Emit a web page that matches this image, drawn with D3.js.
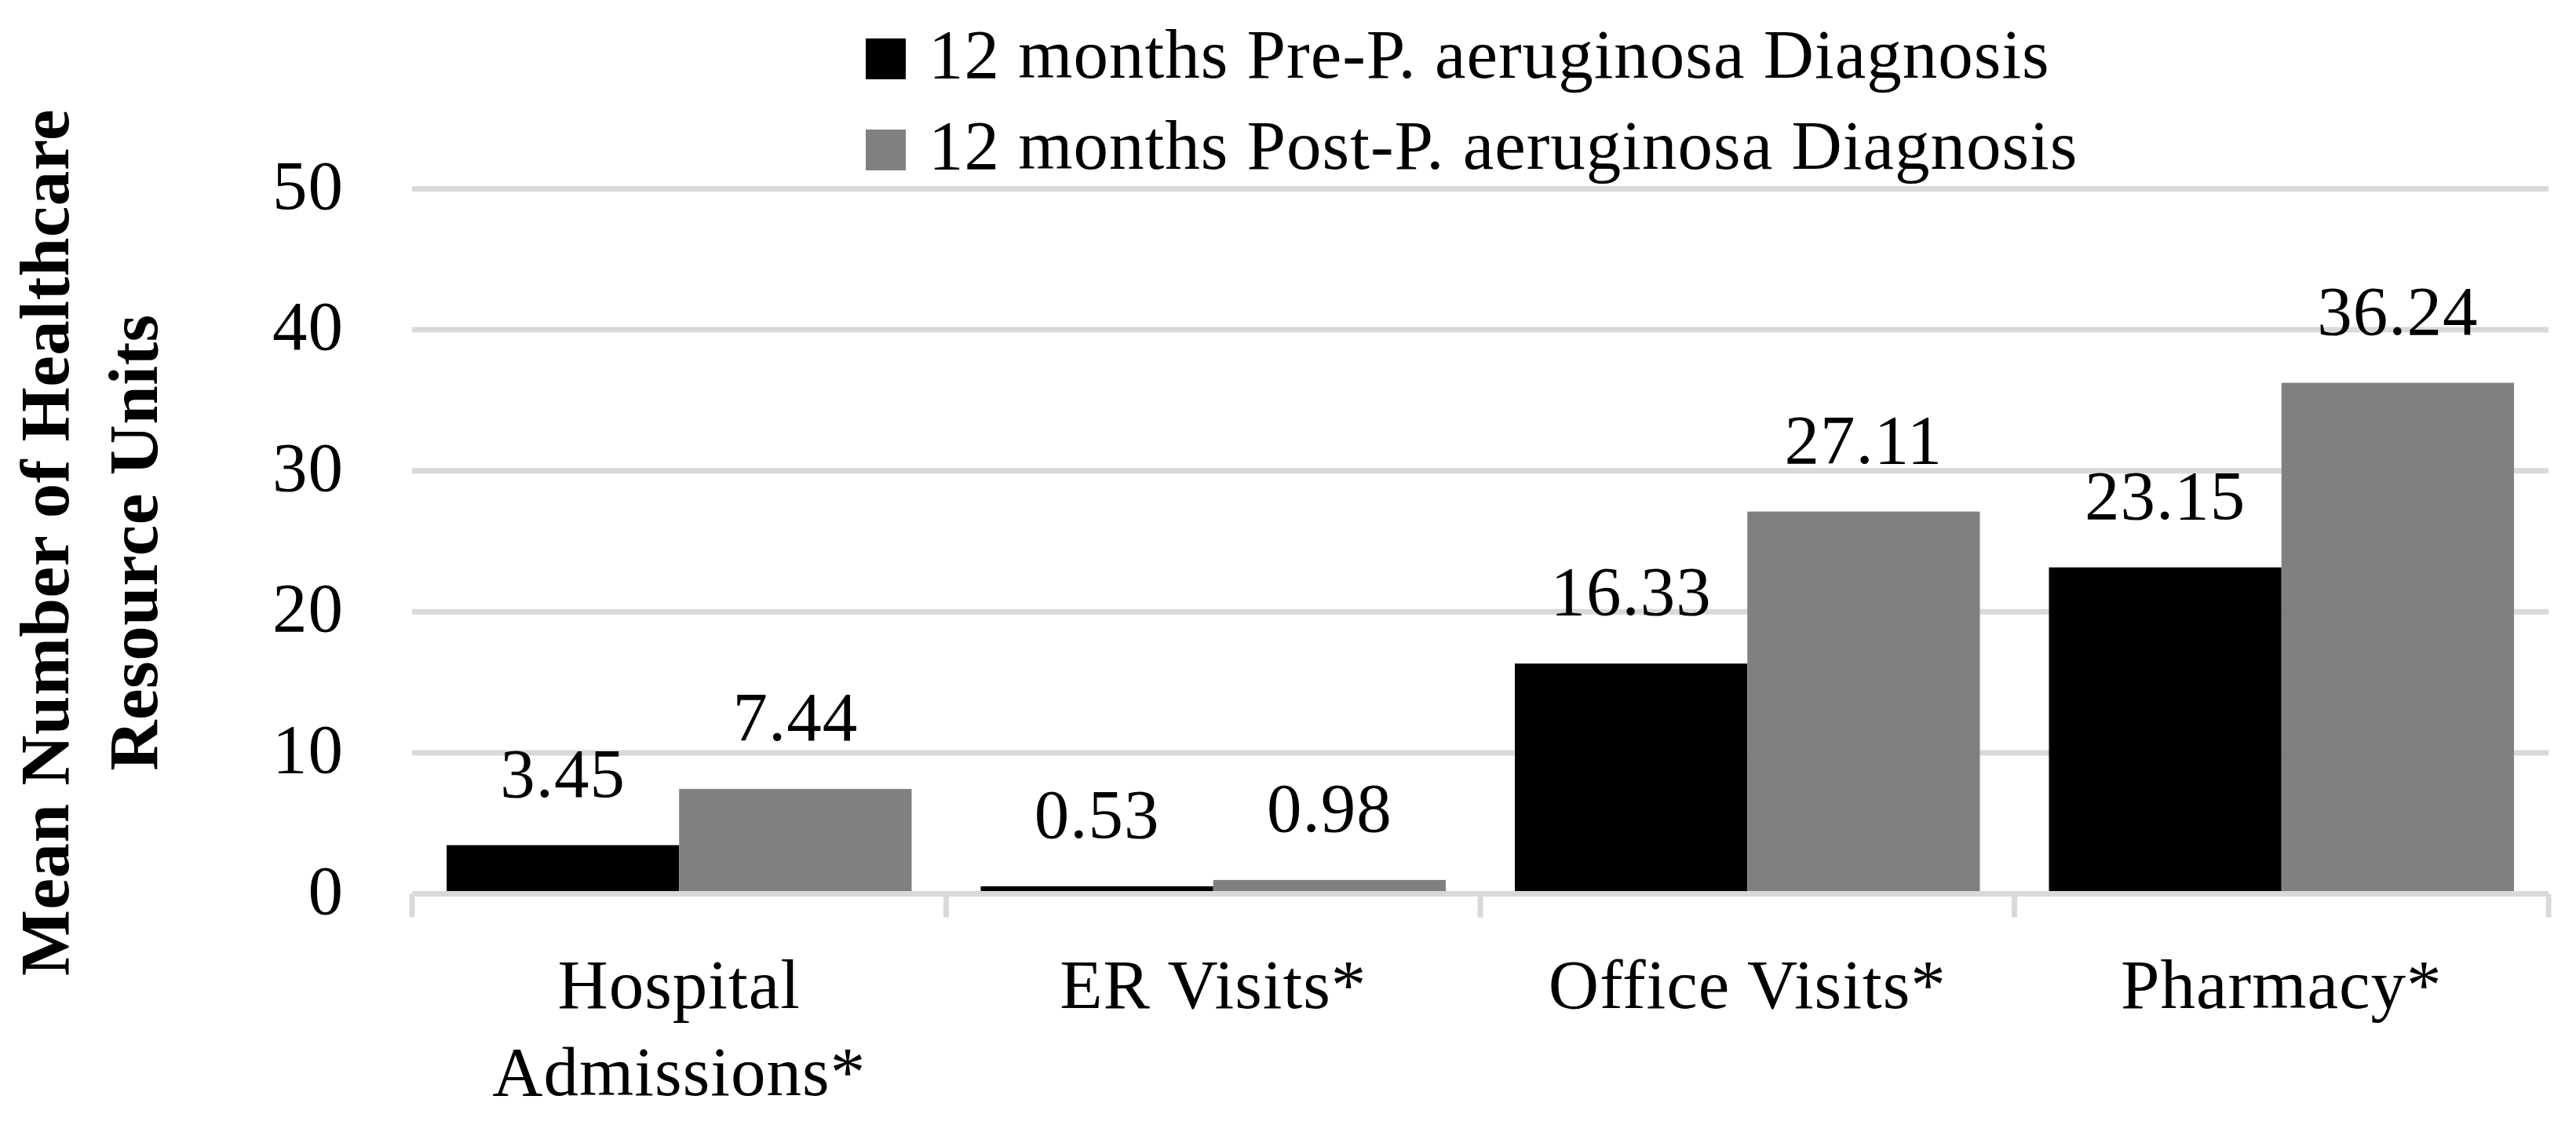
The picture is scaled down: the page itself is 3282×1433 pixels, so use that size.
<!DOCTYPE html>
<html>
<head>
<meta charset="utf-8">
<script src="https://cdn.jsdelivr.net/npm/d3@7"></script>
<style>
  html, body { margin: 0; padding: 0; background: #fff; }
  svg { display: block; }
  text { font-family: "Palatino Linotype", "Book Antiqua", Palatino, "Liberation Serif", serif; fill: #000; }
</style>
</head>
<body>
<svg id="chart" width="3282" height="1433"></svg>
<script>
// data
let categories = [["Hospital", "Admissions*"], ["ER Visits*"], ["Office Visits*"], ["Pharmacy*"]];
let seriesNames = ["12 months Pre-P. aeruginosa Diagnosis", "12 months Post-P. aeruginosa Diagnosis"];
let preValues = [3.45, 0.53, 16.33, 23.15];
let postValues = [7.44, 0.98, 27.11, 36.24];
let yTicks = [0, 10, 20, 30, 40, 50];
let colors = ["#000000", "#808080"];

let svg = d3.select("#chart");
let fontSize = 89;
let spacing = "1px";

let catKeys = categories.map(function(c) { return c.join(" "); });

let xScale = d3.scaleBand()
  .domain(catKeys)
  .range([525, 3247])
  .padding(0);

let xSub = d3.scaleBand()
  .domain([0, 1])
  .range([44, xScale.bandwidth() - 44]);

let yScale = d3.scaleLinear()
  .domain([0, 50])
  .range([1138.5, 240.5]);

// gridlines
svg.append("g")
  .selectAll("line")
  .data(yTicks.slice(1))
  .enter()
  .append("line")
    .attr("x1", 525)
    .attr("x2", 3247)
    .attr("y1", function(d) { return yScale(d); })
    .attr("y2", function(d) { return yScale(d); })
    .style("stroke", "#d9d9d9")
    .style("stroke-width", 7);

// y tick labels
svg.append("g")
  .selectAll("text")
  .data(yTicks)
  .enter()
  .append("text")
    .attr("x", 438)
    .attr("y", function(d) { return yScale(d) + 25; })
    .attr("text-anchor", "end")
    .style("font-size", fontSize + "px")
    .style("letter-spacing", spacing)
    .text(function(d) { return d; });

// bars
let rows = catKeys.map(function(k, i) { return { key: k, values: [preValues[i], postValues[i]] }; });

let groups = svg.append("g")
  .selectAll("g")
  .data(rows)
  .enter()
  .append("g")
    .attr("transform", function(d) { return "translate(" + xScale(d.key) + ",0)"; });

groups.selectAll("rect")
  .data(function(d) { return d.values; })
  .enter()
  .append("rect")
    .attr("x", function(d, i) { return xSub(i); })
    .attr("width", xSub.bandwidth())
    .attr("y", function(d) { return yScale(d); })
    .attr("height", function(d) { return yScale(0) - yScale(d); })
    .style("fill", function(d, i) { return colors[i]; });

groups.selectAll("text")
  .data(function(d) { return d.values; })
  .enter()
  .append("text")
    .attr("x", function(d, i) { return xSub(i) + xSub.bandwidth() / 2; })
    .attr("y", function(d) { return yScale(d) - 62; })
    .attr("text-anchor", "middle")
    .style("font-size", fontSize + "px")
    .style("letter-spacing", spacing)
    .text(function(d) { return d.toFixed(2); });

// x axis line and ticks
svg.append("line")
  .attr("x1", 525).attr("x2", 3247)
  .attr("y1", yScale(0)).attr("y2", yScale(0))
  .style("stroke", "#d9d9d9").style("stroke-width", 7);

let boundaries = catKeys.map(function(k) { return xScale(k); }).concat([xScale.range()[1]]);
svg.append("g")
  .selectAll("line")
  .data(boundaries)
  .enter()
  .append("line")
    .attr("x1", function(d) { return d; })
    .attr("x2", function(d) { return d; })
    .attr("y1", yScale(0))
    .attr("y2", yScale(0) + 30)
    .style("stroke", "#d9d9d9")
    .style("stroke-width", 7);

// category labels
svg.append("g")
  .selectAll("text")
  .data(categories)
  .enter()
  .append("text")
    .attr("text-anchor", "middle")
    .style("font-size", fontSize + "px")
    .style("letter-spacing", spacing)
    .each(function(d, i) {
      let t = d3.select(this);
      let cx = xScale(catKeys[i]) + xScale.bandwidth() / 2;
      d.forEach(function(line, j) {
        t.append("tspan")
          .attr("x", cx)
          .attr("y", 1284 + j * 111)
          .text(line);
      });
    });

// y axis title
let title = svg.append("text")
  .attr("transform", "translate(0,691) rotate(-90)")
  .attr("text-anchor", "middle")
  .style("font-size", fontSize + "px")
  .style("font-weight", "bold")
  .style("letter-spacing", "0.5px");
["Mean Number of Healthcare", "Resource Units"].forEach(function(line, j) {
  title.append("tspan")
    .attr("x", 0)
    .attr("y", 87 + j * 113)
    .text(line);
});

// legend
let legend = svg.append("g")
  .selectAll("g")
  .data(seriesNames)
  .enter()
  .append("g")
    .attr("transform", function(d, i) { return "translate(1103," + (49 + i * 116) + ")"; });

legend.append("rect")
  .attr("width", 51)
  .attr("height", 52)
  .style("fill", function(d, i) { return colors[i]; });

legend.append("text")
  .attr("x", 80)
  .attr("y", 50)
  .style("font-size", fontSize + "px")
  .style("letter-spacing", spacing)
  .text(function(d) { return d; });
</script>
</body>
</html>
